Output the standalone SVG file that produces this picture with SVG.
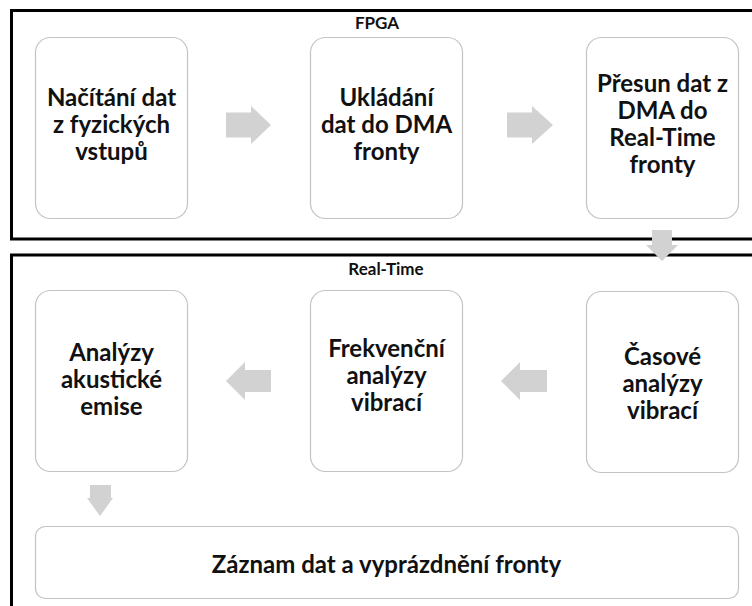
<svg xmlns="http://www.w3.org/2000/svg" width="752" height="606" viewBox="0 0 752 606">
<style>
.frame{fill:none;stroke:#000;stroke-width:3}
.box{fill:#fff;stroke:#c4c4c4;stroke-width:1.2}
.t{font-family:Lato,"Liberation Sans",sans-serif;font-weight:bold;font-size:24px;fill:#111;text-anchor:middle}
.lbl{font-family:Lato,"Liberation Sans",sans-serif;font-weight:bold;font-size:17px;fill:#111;text-anchor:middle}
.arr{fill:#d2d2d2;stroke:none}
</style>
<rect width="752" height="606" fill="#fff"/>
<g id="frame-fpga">
<rect class="frame" x="11.5" y="10.5" width="800" height="228.5"/>
<text class="lbl" x="377" y="29">FPGA</text>
</g>
<g id="frame-realtime">
<rect class="frame" x="11.5" y="255" width="800" height="400"/>
<text class="lbl" x="386" y="275">Real-Time</text>
</g>
<g id="n1">
<rect class="box" x="35.5" y="37.5" width="152" height="181" rx="15"/>
<text class="t" x="111.5" y="106">Načítání dat</text>
<text class="t" x="111.5" y="133">z fyzických</text>
<text class="t" x="111.5" y="160">vstupů</text>
</g>
<g id="n2">
<rect class="box" x="310.5" y="37.5" width="152" height="181" rx="15"/>
<text class="t" x="386.5" y="106">Ukládání</text>
<text class="t" x="386.5" y="133">dat do DMA</text>
<text class="t" x="386.5" y="160">fronty</text>
</g>
<g id="n3">
<rect class="box" x="586.5" y="37.5" width="152" height="181" rx="15"/>
<text class="t" x="662.5" y="92">Přesun dat z</text>
<text class="t" x="662.5" y="119">DMA do</text>
<text class="t" x="662.5" y="146">Real-Time</text>
<text class="t" x="662.5" y="173">fronty</text>
</g>
<g id="n4">
<rect class="box" x="35.5" y="290.5" width="152" height="181" rx="15"/>
<text class="t" x="111.5" y="361">Analýzy</text>
<text class="t" x="111.5" y="388">akustické</text>
<text class="t" x="111.5" y="415">emise</text>
</g>
<g id="n5">
<rect class="box" x="310.5" y="290.5" width="152" height="181" rx="15"/>
<text class="t" x="386.5" y="357">Frekvenční</text>
<text class="t" x="386.5" y="384">analýzy</text>
<text class="t" x="386.5" y="411">vibrací</text>
</g>
<g id="n6">
<rect class="box" x="586.5" y="291.5" width="152" height="181" rx="15"/>
<text class="t" x="662.5" y="365">Časové</text>
<text class="t" x="662.5" y="392">analýzy</text>
<text class="t" x="662.5" y="419">vibrací</text>
</g>
<g id="n7">
<rect class="box" x="35.5" y="526.5" width="703" height="72" rx="10"/>
<text class="t" x="386.5" y="573">Záznam dat a vyprázdnění fronty</text>
</g>
<g id="connectors">
<polygon class="arr" points="226,112.5 251,112.5 251,106 271,125 251,144 251,137.5 226,137.5"/>
<polygon class="arr" points="507,112.5 532,112.5 532,106 553,125 532,144 532,137.5 507,137.5"/>
<polygon class="arr" points="652,230 672,230 672,245 678,245 662,261 646,245 652,245"/>
<polygon class="arr" points="547,370 520,370 520,362 501,381 520,400 520,392 547,392"/>
<polygon class="arr" points="271,370 245,370 245,362 226,381 245,400 245,392 271,392"/>
<polygon class="arr" points="90,485 111,485 111,498 113,498 100,516 87,498 90,498"/>
</g>
</svg>
